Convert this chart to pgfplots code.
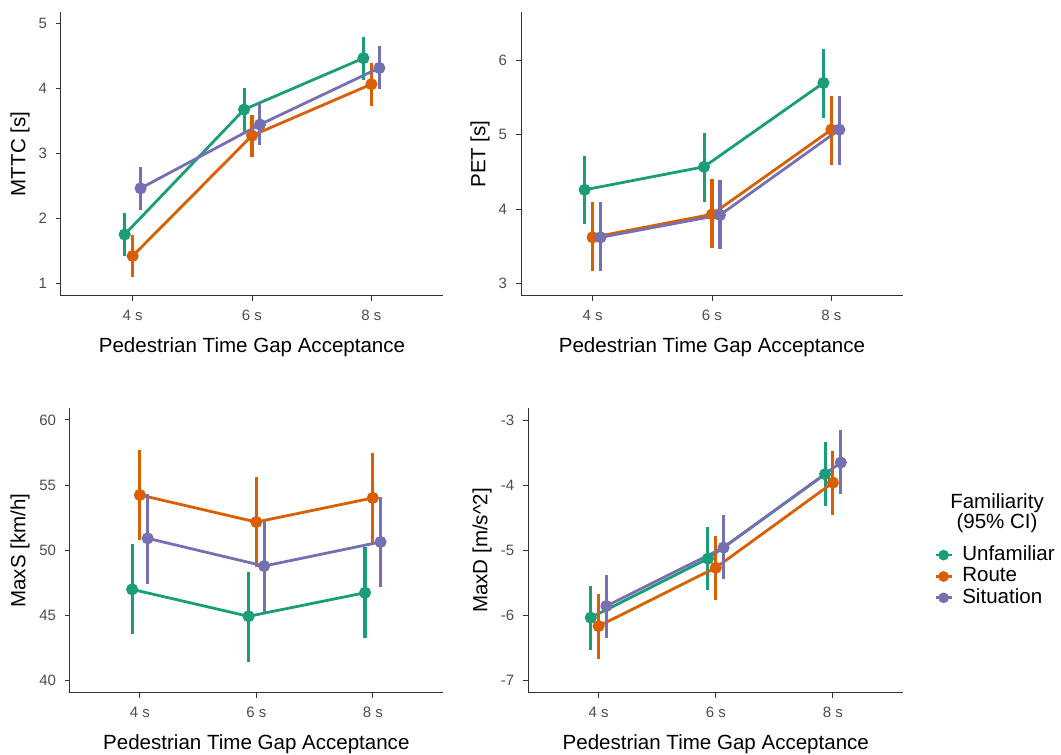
\documentclass[border=0pt]{standalone}
\usepackage{pgfplots}
\pgfplotsset{compat=1.18}
\usepackage{pgfplotstable}
\usepackage{fontspec}
\setmainfont{Liberation Sans}
\definecolor{cU}{HTML}{1B9E77}
\definecolor{cR}{HTML}{D95F02}
\definecolor{cS}{HTML}{7570B3}
\definecolor{tickgrey}{HTML}{4D4D4D}
\definecolor{axgrey}{HTML}{333333}

\pgfplotstableread{
x U Ulo Uhi R Rlo Rhi S Slo Shi
1 1.75 1.42 2.08 1.42 1.09 1.74 2.46 2.13 2.78
2 3.67 3.33 4.00 3.27 2.94 3.59 3.44 3.12 3.77
3 4.46 4.13 4.79 4.06 3.73 4.39 4.31 3.99 4.65
}\mttc
\pgfplotstableread{
x U Ulo Uhi R Rlo Rhi S Slo Shi
1 4.26 3.80 4.72 3.62 3.17 4.09 3.62 3.16 4.09
2 4.57 4.10 5.03 3.93 3.47 4.40 3.92 3.46 4.39
3 5.70 5.23 6.16 5.07 4.60 5.53 5.07 4.60 5.53
}\pet
\pgfplotstableread{
x U Ulo Uhi R Rlo Rhi S Slo Shi
1 46.99 43.59 50.45 54.24 50.78 57.70 50.91 47.43 54.34
2 44.92 41.43 48.35 52.16 48.68 55.65 48.78 45.28 52.24
3 46.73 43.28 50.24 54.01 50.52 57.44 50.63 47.14 54.11
}\maxs
\pgfplotstableread{
x U Ulo Uhi R Rlo Rhi S Slo Shi
1 -6.04 -6.54 -5.55 -6.17 -6.67 -5.68 -5.86 -6.36 -5.38
2 -5.13 -5.62 -4.64 -5.27 -5.76 -4.78 -4.96 -5.45 -4.46
3 -3.83 -4.32 -3.33 -3.96 -4.46 -3.47 -3.65 -4.14 -3.15
}\maxd

\pgfplotsset{
  panel/.style={
    scale only axis,
    xmin=0.4, xmax=3.6,
    xtick={1,2,3}, xticklabels={4 s,6 s,8 s},
    axis x line*=bottom, axis y line*=left,
    axis line style={-, axgrey, line width=0.75pt},
    tick style={axgrey, line width=0.75pt},
    tick align=outside,
    major tick length=3.75pt,
    minor tick num=0,
    ticklabel style={font=\fontsize{11.25}{13}\selectfont, text=tickgrey},
    xticklabel style={yshift=-3pt},
    yticklabel style={xshift=-3.2pt},
    /pgf/number format/assume math mode=true,
    label style={font=\fontsize{15.4}{18}\selectfont},
    xlabel={Pedestrian Time Gap Acceptance},
    xlabel style={at={(axis description cs:0.5,0)}, anchor=base, yshift=-42.2pt},
    clip=false,
  },
  ser/.style={color=#1, line width=2.1pt, mark=*, mark size=3.6pt,
    mark options={solid, line width=1.8pt, fill=#1, draw=#1}},
  bar/.style={color=#1, line width=2.3pt, mark=none, solid},
}

% #1 table, #2 column prefix, #3 colour, #4 dodge offset
\newcommand{\oneseries}[4]{%
  \addplot[forget plot, bar=#3, quiver={u=0, v=\thisrow{#2hi}-\thisrow{#2lo}}]
    table[x expr=\thisrow{x}+#4, y=#2lo] {#1};
  \addplot[forget plot, ser=#3] table[x expr=\thisrow{x}+#4, y=#2] {#1};
}
\newcommand{\series}[1]{%
  \oneseries{#1}{U}{cU}{-0.0667}%
  \oneseries{#1}{R}{cR}{0}%
  \oneseries{#1}{S}{cS}{0.0667}%
}

\begin{document}
\begin{tikzpicture}
\path[use as bounding box] (0,0) rectangle (795.75pt,566.25pt);

\begin{axis}[panel, at={(45.75pt,344.25pt)}, anchor=south west,
  width=286.5pt, height=213pt,
  ymin=0.805, ymax=5.17, ytick={1,2,3,4,5},
  ylabel={MTTC [s]},
  ylabel style={at={(axis description cs:-0.107,0.5)}, anchor=center}]
\series{\mttc}
\end{axis}

\begin{axis}[panel, at={(390.75pt,344.25pt)}, anchor=south west,
  width=286.5pt, height=213pt,
  ymin=2.83, ymax=6.655, ytick={3,4,5,6},
  ylabel={PET [s]},
  ylabel style={at={(axis description cs:-0.107,0.5)}, anchor=center}]
\series{\pet}
\end{axis}

\begin{axis}[panel, at={(52.5pt,46.5pt)}, anchor=south west,
  width=279.5pt, height=213.75pt,
  ymin=39.03, ymax=60.92, ytick={40,45,50,55,60},
  ylabel={MaxS [km/h]},
  ylabel style={at={(axis description cs:-0.134,0.5)}, anchor=center}]
\series{\maxs}
\end{axis}

\begin{axis}[panel, at={(396.2pt,46.5pt)}, anchor=south west,
  width=281.25pt, height=213.75pt,
  ymin=-7.2, ymax=-2.81, ytick={-7,-6,-5,-4,-3},
  yticklabels={-7,-6,-5,-4,-3},
  ylabel={MaxD [m/s\^{}2]},
  ylabel style={at={(axis description cs:-0.123,0.5)}, anchor=center},
  legend style={at={(1.082,0.522)}, anchor=north west, draw=none, fill=none,
    inner sep=0pt, row sep=0pt, font=\fontsize{15.4}{18}\selectfont,
    nodes={inner sep=1pt, text height=11pt, text depth=3pt}},
  legend cell align=left]
\series{\maxd}
\addlegendimage{legend image code/.code={\path[draw=none,fill=none] (0pt,0pt) -- (19pt,0pt); \draw[cU, line width=2pt] (0pt,0pt) -- (12pt,0pt); \fill[cU] (6pt,0pt) circle (3.8pt);}}
\addlegendentry{Unfamiliar}
\addlegendimage{legend image code/.code={\path[draw=none,fill=none] (0pt,0pt) -- (19pt,0pt); \draw[cR, line width=2pt] (0pt,0pt) -- (12pt,0pt); \fill[cR] (6pt,0pt) circle (3.8pt);}}
\addlegendentry{Route}
\addlegendimage{legend image code/.code={\path[draw=none,fill=none] (0pt,0pt) -- (19pt,0pt); \draw[cS, line width=2pt] (0pt,0pt) -- (12pt,0pt); \fill[cS] (6pt,0pt) circle (3.8pt);}}
\addlegendentry{Situation}
\node[align=center, font=\fontsize{15.4}{15}\selectfont] at (rel axis cs:1.25,0.632) {Familiarity\\(95\% CI)};
\end{axis}
\end{tikzpicture}
\end{document}
